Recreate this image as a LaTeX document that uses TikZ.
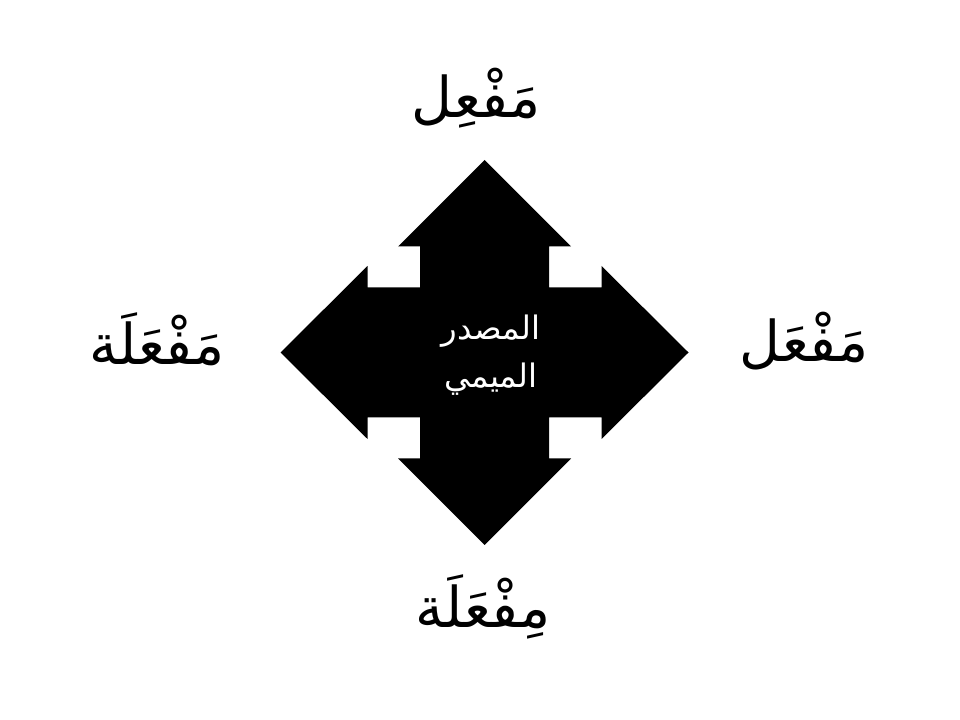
\documentclass[tikz,border=0pt]{standalone}
\usepackage{fontspec}
\usepackage{tikz}
\TeXXeTstate=1
\newfontfamily\arabicfont[Script=Arabic]{DejaVu Sans}

\tikzset{
    wazn/.style={
        font=\arabicfont\fontsize{40}{46}\selectfont,
        inner sep=0pt
    },
    masdar/.style={
        font=\arabicfont\fontsize{23}{34}\selectfont,
        text=white,
        align=center,
        inner sep=0pt
    }
}

\begin{document}
\begin{tikzpicture}[x=0.025cm,y=-0.025cm]

\useasboundingbox (0,0) rectangle (960,720);

% Four way arrow
\fill
[
    black
] (484.5,160) -- (571,246.5) -- (549,246.5) -- (549,287.5)
  -- (601.5,287.5) -- (601.5,266) -- (688.5,352.5) -- (601.5,439)
  -- (601.5,417.5) -- (549,417.5) -- (549,458.5) -- (571,458.5)
  -- (484.5,545) -- (398,458.5) -- (420,458.5) -- (420,417.5)
  -- (367.5,417.5) -- (367.5,439) -- (280.5,352.5) -- (367.5,266)
  -- (367.5,287.5) -- (420,287.5) -- (420,246.5) -- (398,246.5) -- cycle;

% Centre text
\node[masdar] (center) at (491,355) {\beginR المصدر\endR\\ \beginR الميمي\endR};

% Patterns round the arrow
\node[wazn] (top) at (476,98) {\beginR مَفْعِل\endR};
\node[wazn] (right) at (804,341) {\beginR مَفْعَل\endR};
\node[wazn] (left) at (157,339) {\beginR مَفْعَلَة\endR};
\node[wazn] (bottom) at (483,607) {\beginR مِفْعَلَة\endR};
\end{tikzpicture}
\end{document}
